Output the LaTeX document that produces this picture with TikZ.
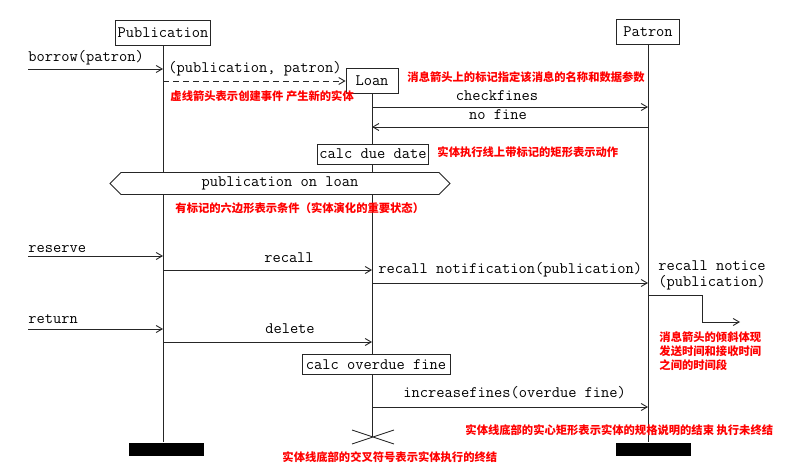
\documentclass[tikz,border=0pt]{standalone}
\usepackage{fontspec}
\newfontfamily\cjk{Noto Sans CJK SC}
\usetikzlibrary{arrows.meta, shapes.symbols}

\begin{document}
\begin{tikzpicture}[x=1pt, y=-1pt, line width=0.9pt, draw=black!85]
	\tikzstyle{txt}=[inner sep=0pt, font=\fontsize{16}{16}\ttfamily]
	\tikzstyle{obj}=[txt, draw, fill=white, minimum height=25]
	\tikzstyle{act}=[txt, draw, fill=white, minimum height=20]
	\tikzstyle{cond}=[txt, signal, signal to=west and east, draw, fill=white, minimum width=340, minimum height=22]
	\tikzstyle{stopbox}=[fill=black, inner sep=0pt, minimum width=75, minimum height=13]
	\tikzstyle{msg}=[-{Straight Barb[length=6pt, width=7pt]}]
	\tikzstyle{new}=[msg, dash pattern=on 6pt off 4pt]
	\tikzstyle{note}=[inner sep=0pt, text=red, font=\fontsize{11.3}{14}\cjk\bfseries]
	\useasboundingbox (0,0) rectangle (805,470);
		
		\node[obj, minimum width=95] (pub) at (163,33) {Publication};
		\node[obj, minimum width=63] (patron) at (648,32) {Patron};
		\node[stopbox] (pubend) at (166,449) {};
		\node[stopbox] (patend) at (653,449) {};
		
		%========================================================================
		% Lifelines
		\draw (pub) -- (pub |- pubend.north);
		\draw (patron) -- (patron |- patend.north);
		
		\node[obj, minimum width=52] (loan) at (372,81) {Loan};
		\coordinate (loanend) at (372,437);
		\draw (loan) -- (loanend);
		\draw (loanend) +(-20,-7) -- +(22,7) +(-20,7) -- +(22,-7);
		
		\node[act, minimum width=111] (due) at (373,154) {calc due date};
		\node[cond] (onloan) at (280,183.5) {publication on loan};
		\node[act, minimum width=148] (fine) at (376,364.5) {calc overdue fine};
		
		%========================================================================
		% Messages
		\coordinate (borrow) at (28,69);
		\coordinate (checkfines) at (0,107);
		\coordinate (nofine) at (0,127);
		\coordinate (reserve) at (28,256);
		\coordinate (recall) at (0,270);
		\coordinate (notification) at (0,283);
		\coordinate (notice) at (0,295);
		\coordinate (noticebend) at (702,322);
		\coordinate (noticeend) at (740,322);
		\coordinate (return) at (28,329);
		\coordinate (delete) at (0,342);
		\coordinate (increase) at (0,407);
		
		\draw[msg] (borrow) -- (borrow -| pub);
		\draw[new] (pub |- loan) -- (loan);
		\draw[msg] (loan |- checkfines) -- (patron |- checkfines);
		\draw[msg] (patron |- nofine) -- (loan |- nofine);
		\draw[msg] (reserve) -- (reserve -| pub);
		\draw[msg] (pub |- recall) -- (loan |- recall);
		\draw[msg] (loan |- notification) -- (patron |- notification);
		\draw[msg] (patron |- notice) -| (noticebend) -- (noticeend);
		\draw[msg] (return) -- (return -| pub);
		\draw[msg] (pub |- delete) -- (loan |- delete);
		\draw[msg] (loan |- increase) -- (patron |- increase);
		
		%========================================================================
		% Labels
		\node[txt, anchor=base west] (borrowlbl) at (28,62) {borrow(patron)};
		\node[txt, anchor=base west] (createlbl) at (168,73) {(publication, patron)};
		\node[txt, anchor=base] (checklbl) at (497,101) {checkfines};
		\node[txt, anchor=base] (nofinelbl) at (498,120) {no fine};
		\node[txt, anchor=base west] (reservelbl) at (28,253) {reserve};
		\node[txt, anchor=base] (recalllbl) at (289,262) {recall};
		\node[txt, anchor=base west] (notiflbl) at (378,273) {recall notification(publication)};
		\node[txt, anchor=base west, align=left] (noticelbl) at (658,286) {recall notice\\(publication)};
		\node[txt, anchor=base west] (returnlbl) at (28,323) {return};
		\node[txt, anchor=base] (deletelbl) at (290,333) {delete};
		\node[txt, anchor=base west] (increaselbl) at (403,397) {increasefines(overdue fine)};
		
		%========================================================================
		% Notes
		\node[note, anchor=base west] (n1) at (170,101) {虚线箭头表示创建事件 产生新的实体};
		\node[note, anchor=base west] (n2) at (407,82) {消息箭头上的标记指定该消息的名称和数据参数};
		\node[note, anchor=base west] (n3) at (437,157) {实体执行线上带标记的矩形表示动作};
		\node[note, anchor=base west] (n4) at (175,213) {有标记的六边形表示条件（实体演化的重要状态）};
		\node[note, anchor=base west, align=left] (n5) at (659,369) {消息箭头的倾斜体现\\发送时间和接收时间\\之间的时间段};
		\node[note, anchor=base west] (n6) at (465,434) {实体线底部的实心矩形表示实体的规格说明的结束 执行未终结};
		\node[note, anchor=base west] (n7) at (282,461) {实体线底部的交叉符号表示实体执行的终结};
\end{tikzpicture}
\end{document}
